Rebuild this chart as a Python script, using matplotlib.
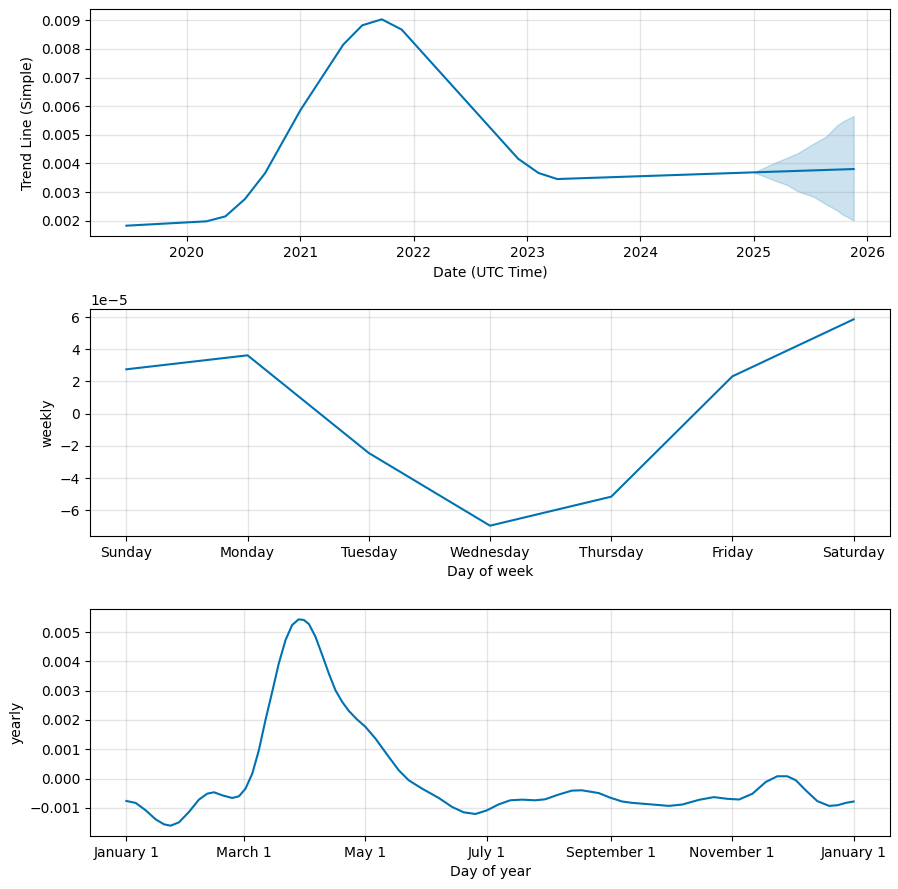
import matplotlib
matplotlib.use("Agg")
import matplotlib.pyplot as plt
import matplotlib.dates as mdates
import pandas as pd

# ---- Trend data ----
trend_dates = ["2019-06-20", "2020-03-04", "2020-05-04", "2020-07-06", "2020-09-09",
               "2021-01-01", "2021-05-19", "2021-07-19", "2021-09-20", "2021-11-23",
               "2022-12-03", "2023-02-07", "2023-04-08", "2024-12-30", "2025-11-18"]
trend_values = [0.001825, 0.001977, 0.00215, 0.002756, 0.003661,
                0.005866, 0.008155, 0.008827, 0.009036, 0.008677,
                0.004165, 0.003665, 0.003455, 0.003688, 0.003804]

band_dates = ["2025-01-01", "2025-03-17", "2025-04-18", "2025-05-20", "2025-07-13",
              "2025-08-20", "2025-09-27", "2025-10-13", "2025-11-18"]
band_upper = [0.00369, 0.00406, 0.00420, 0.00435, 0.00470, 0.00493, 0.00534, 0.00546, 0.00566]
band_lower = [0.00369, 0.00337, 0.00325, 0.00304, 0.00283, 0.00258, 0.00235, 0.00222, 0.00201]

# ---- Weekly data ----
week_days = ["Sunday", "Monday", "Tuesday", "Wednesday", "Thursday", "Friday", "Saturday"]
weekly_values = [2.757e-5, 3.627e-5, -2.446e-5, -6.964e-5, -5.161e-5, 2.321e-5, 5.865e-5]

# ---- Yearly data (day offset from Jan 1) ----
yearly_days = [0, 4.7, 9.7, 14.7, 18.9, 22.2, 26.4, 31.4, 36.4, 40.6, 44, 48.1, 53.1,
               56.5, 59.8, 63.2, 66.5, 69.8, 73.2, 76.5, 79.9, 83.2, 86.5, 89.1, 91.6,
               94.9, 98.3, 101.6, 104.9, 108.3, 111.6, 115.8, 120, 125, 131.7, 136.7,
               141.7, 148.4, 156.8, 163.5, 169.3, 175.2, 181, 186.9, 192.7, 198.5,
               205.2, 210.2, 216.8, 223.6, 228.6, 237.1, 243, 248.9, 253.9, 262.3,
               272.3, 279, 287.4, 294.9, 301.6, 307.5, 314.2, 320.9, 326.7, 331.7,
               336, 341, 346.8, 352.7, 356.9, 361.1, 365]
yearly_values = [-0.000763, -0.000831, -0.001082, -0.00139, -0.00156, -0.001606,
                 -0.001492, -0.001139, -0.000718, -0.000513, -0.000467, -0.00057,
                 -0.000661, -0.000604, -0.000342, 0.000171, 0.000968, 0.001993,
                 0.002961, 0.003929, 0.004727, 0.005239, 0.005433, 0.00541, 0.005273,
                 0.00484, 0.004214, 0.003588, 0.003018, 0.00262, 0.002312, 0.002016,
                 0.001765, 0.001367, 0.00074, 0.000285, -0.000057, -0.000342,
                 -0.000661, -0.000968, -0.00115, -0.001207, -0.001082, -0.000877,
                 -0.00074, -0.000718, -0.00074, -0.000706, -0.000547, -0.00041,
                 -0.000399, -0.000494, -0.000655, -0.000782, -0.000828, -0.000874,
                 -0.000931, -0.000885, -0.000724, -0.000632, -0.00069, -0.000713,
                 -0.000517, -0.000115, 0.00008, 0.00008, -0.000057, -0.000402,
                 -0.00077, -0.000931, -0.000908, -0.000828, -0.000782]

color = "#0072B2"
W, H = 898, 889
fig = plt.figure(figsize=(W / 100, H / 100), dpi=100)

def box(top, bottom):
    return [90 / W, 1 - bottom / H, 800 / W, (bottom - top) / H]

def grid(ax):
    ax.grid(True, which="major", c="gray", ls="-", lw=1, alpha=0.2)

# Trend
ax1 = fig.add_axes(box(9, 236))
td = pd.to_datetime(trend_dates)
bd = pd.to_datetime(band_dates)
ax1.plot(td, trend_values, ls="-", c=color)
ax1.fill_between(bd, band_lower, band_upper, color=color, alpha=0.2)
ax1.xaxis.set_major_locator(mdates.YearLocator())
ax1.xaxis.set_major_formatter(mdates.DateFormatter("%Y"))
grid(ax1)
ax1.set_xlabel("Date (UTC Time)")
ax1.set_ylabel("Trend Line (Simple)")

# Weekly
ax2 = fig.add_axes(box(309, 536))
ax2.plot(range(len(week_days)), weekly_values, ls="-", c=color)
ax2.set_xticks(range(len(week_days)))
ax2.set_xticklabels(week_days)
grid(ax2)
ax2.set_xlabel("Day of week")
ax2.set_ylabel("weekly")

# Yearly
ax3 = fig.add_axes(box(609, 836))
yd = pd.Timestamp("2017-01-01") + pd.to_timedelta(yearly_days, unit="D")
ax3.plot(yd, yearly_values, ls="-", c=color)
ax3.xaxis.set_major_locator(mdates.MonthLocator(bymonth=range(1, 13), bymonthday=1, interval=2))
ax3.xaxis.set_major_formatter(mdates.DateFormatter("%B %-d"))
grid(ax3)
ax3.set_xlabel("Day of year")
ax3.set_ylabel("yearly")

fig.savefig("out.png", dpi=100)
